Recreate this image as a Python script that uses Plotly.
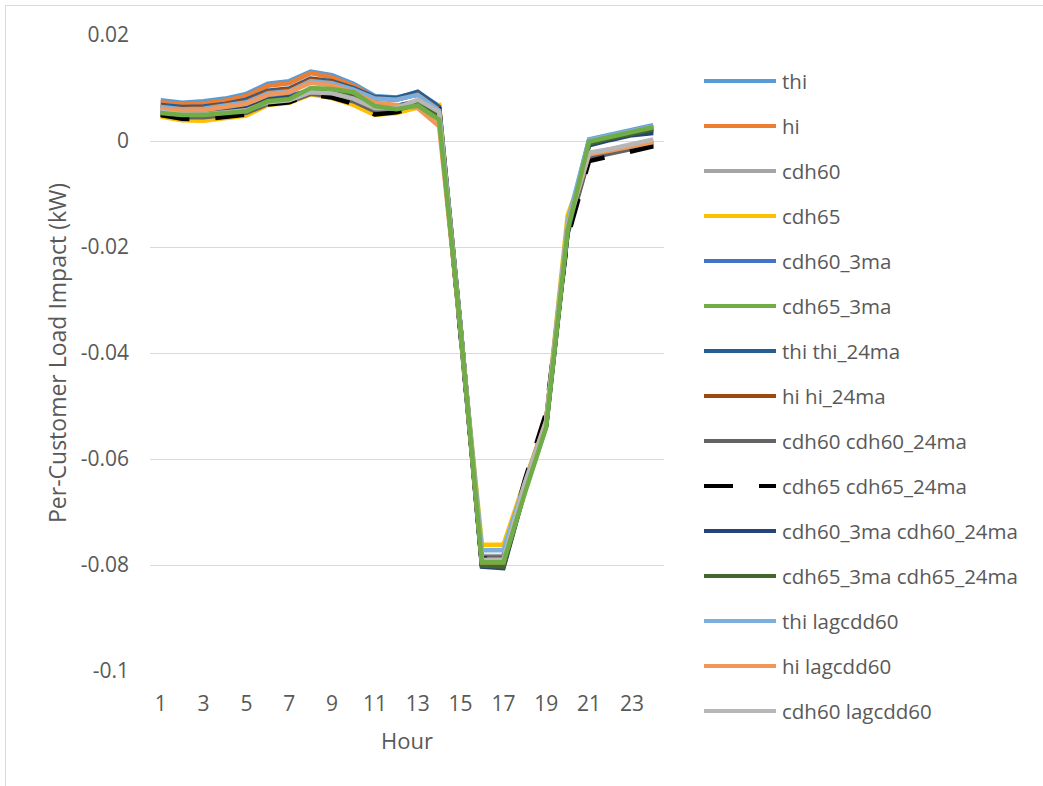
import plotly.graph_objects as go

hours = list(range(1, 25))

# Per-customer load impact (kW) by hour, one list per weather specification
thi = [.0077, .0072, .0075, .0080, .0089, .0108, .0113, .0131, .0124, .0108, .0085, .0082, .0091, .0066,
       -.0350, -.0798, -.0798, -.0650, -.0530, -.0158, .0003, .0012, .0021, .0030]
hi = [.0073, .0069, .0071, .0076, .0085, .0104, .0109, .0128, .0120, .0104, .0082, .0080, .0087, .0062,
      -.0352, -.0797, -.0797, -.0652, -.0532, -.0160, .0000, .0010, .0019, .0027]
cdh60 = [.0051, .0046, .0046, .0050, .0054, .0071, .0075, .0090, .0087, .0077, .0058, .0060, .0074, .0052,
         -.0354, -.0783, -.0783, -.0645, -.0528, -.0155, -.0024, -.0016, -.0007, .0001]
cdh65 = [.0046, .0039, .0038, .0042, .0048, .0068, .0072, .0088, .0081, .0068, .0049, .0053, .0063, .0068,
         -.0362, -.0762, -.0762, -.0642, -.0526, -.0140, -.0028, -.0020, -.0010, -.0006]
cdh60_3ma = [.0058, .0055, .0055, .0060, .0067, .0082, .0086, .0095, .0091, .0084, .0066, .0064, .0072, .0045,
             -.0350, -.0800, -.0801, -.0655, -.0535, -.0163, -.0001, .0009, .0017, .0025]
cdh65_3ma = [.0053, .0049, .0049, .0052, .0056, .0075, .0079, .0100, .0098, .0092, .0066, .0060, .0067, .0040,
             -.0355, -.0795, -.0795, -.0665, -.0540, -.0168, -.0001, .0008, .0017, .0026]
thi_24ma = [.0068, .0064, .0065, .0070, .0078, .0095, .0099, .0118, .0113, .0100, .0083, .0081, .0093, .0064,
            -.0350, -.0800, -.0802, -.0655, -.0535, -.0165, -.0003, .0007, .0014, .0020]
hi_24ma = [.0065, .0061, .0063, .0068, .0075, .0093, .0097, .0116, .0111, .0097, .0080, .0078, .0088, .0060,
           -.0352, -.0799, -.0800, -.0650, -.0530, -.0170, -.0030, -.0022, -.0012, -.0004]
cdh60_24ma = [.0050, .0045, .0045, .0049, .0053, .0070, .0074, .0089, .0085, .0075, .0056, .0058, .0070, .0056,
              -.0358, -.0786, -.0786, -.0650, -.0525, -.0175, -.0032, -.0024, -.0014, -.0006]
cdh65_24ma = [.0049, .0042, .0041, .0045, .0050, .0069, .0073, .0088, .0082, .0070, .0050, .0054, .0064, .0060,
              -.0362, -.0788, -.0788, -.0640, -.0512, -.0182, -.0038, -.0028, -.0018, -.0010]
cdh60_3ma_24ma = [.0056, .0052, .0053, .0057, .0062, .0078, .0082, .0096, .0093, .0087, .0068, .0066, .0075, .0050,
                  -.0358, -.0803, -.0806, -.0660, -.0538, -.0172, -.0008, .0002, .0011, .0015]
cdh65_3ma_24ma = [.0054, .0050, .0050, .0054, .0058, .0076, .0080, .0098, .0095, .0089, .0066, .0062, .0070, .0047,
                  -.0356, -.0801, -.0803, -.0660, -.0537, -.0170, -.0005, .0005, .0014, .0022]
thi_lagcdd60 = [.0064, .0060, .0061, .0066, .0073, .0090, .0094, .0113, .0109, .0097, .0080, .0078, .0087, .0058,
                -.0348, -.0772, -.0772, -.0645, -.0528, -.0152, .0002, .0011, .0019, .0028]
hi_lagcdd60 = [.0061, .0057, .0058, .0063, .0070, .0087, .0092, .0110, .0105, .0092, .0072, .0068, .0062, .0028,
               -.0355, -.0795, -.0795, -.0648, -.0528, -.0160, -.0025, -.0018, -.0010, -.0002]
cdh60_lagcdd60 = [.0055, .0050, .0050, .0054, .0058, .0073, .0077, .0092, .0090, .0080, .0062, .0062, .0078, .0055,
                  -.0352, -.0790, -.0790, -.0648, -.0530, -.0158, -.0022, -.0015, -.0006, .0003]

series_names = ["thi", "hi", "cdh60", "cdh65", "cdh60_3ma", "cdh65_3ma", "thi thi_24ma", "hi hi_24ma",
                "cdh60 cdh60_24ma", "cdh65 cdh65_24ma", "cdh60_3ma cdh60_24ma", "cdh65_3ma cdh65_24ma",
                "thi lagcdd60", "hi lagcdd60", "cdh60 lagcdd60"]
series_values = [thi, hi, cdh60, cdh65, cdh60_3ma, cdh65_3ma, thi_24ma, hi_24ma, cdh60_24ma, cdh65_24ma,
                 cdh60_3ma_24ma, cdh65_3ma_24ma, thi_lagcdd60, hi_lagcdd60, cdh60_lagcdd60]
series_colors = ["#5B9BD5", "#ED7D31", "#A5A5A5", "#FFC000", "#4472C4", "#70AD47", "#255E91", "#9E480E",
                 "#636363", "#000000", "#264478", "#43682B", "#7CAFDD", "#F1975A", "#B7B7B7"]
series_dash = ["solid"] * 9 + ["29px,26px"] + ["solid"] * 5

y_ticks = [0.02, 0, -0.02, -0.04, -0.06, -0.08, -0.1]
y_tick_text = ["0.02", "0", "-0.02", "-0.04", "-0.06", "-0.08", "-0.1"]
x_ticks = [1, 3, 5, 7, 9, 11, 13, 15, 17, 19, 21, 23]

FONT = "Open Sans"
TXT = "#595959"
W, H = 1043, 786
ML, MR, MT, MB = 150, 379, 35, 115
PW, PH = W - ML - MR, H - MT - MB


def px(x):
    return (x - ML) / PW


def py(y):
    return (H - MB - y) / PH


fig = go.Figure()

# draw order: cdh65_3ma sits on top of the bundle
order = [i for i in range(len(series_names)) if i != 5] + [5]
for i in order:
    fig.add_trace(go.Scatter(
        x=hours, y=series_values[i], mode="lines", name=series_names[i],
        line=dict(color=series_colors[i], width=4.5, dash=series_dash[i]),
        showlegend=False, hoverinfo="skip"))

shapes = []
annotations = []
# legend drawn at the right of the plot area
for i, name in enumerate(series_names):
    yy = 81 + 45 * i
    shapes.append(dict(type="line", xref="paper", yref="paper",
                       x0=px(704), x1=px(776), y0=py(yy), y1=py(yy),
                       line=dict(color=series_colors[i], width=4, dash=series_dash[i])))
    annotations.append(dict(xref="paper", yref="paper", x=px(780), y=py(yy), text=name,
                            showarrow=False, xanchor="left", yanchor="middle",
                            font=dict(family=FONT, size=20.5, color=TXT)))

# outer chart border
shapes.append(dict(type="rect", xref="paper", yref="paper", layer="below",
                   x0=px(5.5), x1=px(1050), y0=py(5.5), y1=py(800),
                   line=dict(color="#D9D9D9", width=1)))

annotations.append(dict(xref="paper", yref="paper", x=px(57), y=py(353),
                        text="Per-Customer Load Impact (kW)", textangle=-90, showarrow=False,
                        xanchor="center", yanchor="middle",
                        font=dict(family=FONT, size=23, color=TXT)))
annotations.append(dict(xref="paper", yref="paper", x=px(407), y=py(740), text="Hour",
                        showarrow=False, xanchor="center", yanchor="middle",
                        font=dict(family=FONT, size=22, color=TXT)))

fig.update_layout(
    width=W, height=H,
    margin=dict(l=ML, r=MR, t=MT, b=MB, pad=0),
    paper_bgcolor="white", plot_bgcolor="white",
    showlegend=False,
    shapes=shapes, annotations=annotations,
    font=dict(family=FONT, size=20, color=TXT),
    xaxis=dict(range=[0.5, 24.5], tickvals=x_ticks, showgrid=False, zeroline=False,
               showline=False, ticks="", ticklabelstandoff=18,
               tickfont=dict(family=FONT, size=21, color=TXT)),
    yaxis=dict(range=[-0.1, 0.02], tickvals=y_ticks, ticktext=y_tick_text,
               showgrid=True, gridcolor="#D9D9D9", gridwidth=1, zeroline=False,
               showline=False, ticks="", ticklabelstandoff=20,
               tickfont=dict(family=FONT, size=21, color=TXT)),
)

fig.write_html("out.html")
